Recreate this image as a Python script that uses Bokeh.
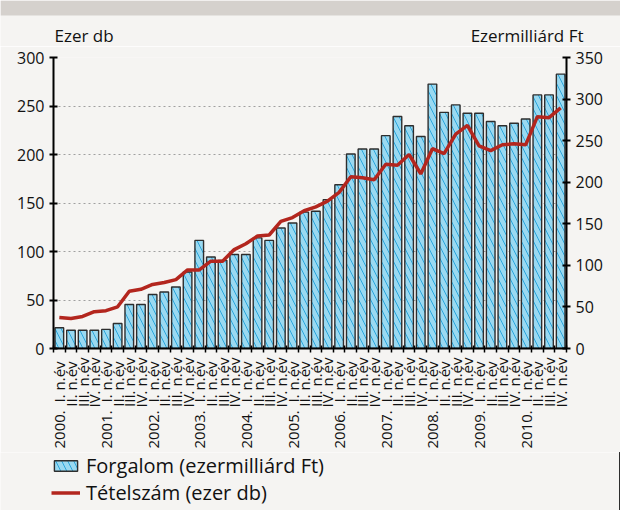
import math
from bokeh.plotting import figure
from bokeh.models import (Range1d, LinearAxis, FixedTicker, Label, Legend, LegendItem,
                          BoxAnnotation)
from bokeh.layouts import column
from bokeh.embed import file_html
from bokeh.resources import INLINE

# ---------------- data ----------------
years = ["2000.", "2001.", "2002.", "2003.", "2004.", "2005.",
         "2006.", "2007.", "2008.", "2009.", "2010."]
quarters = ["I. n.év", "II. n.év", "III. n.év", "IV. n.év"]

# Forgalom (ezermilliárd Ft) - right axis
forgalom = [25, 22, 22, 22, 23, 30, 53, 53, 65, 68, 74, 92,
            130, 110, 106, 113, 113, 133, 130, 145, 151, 164, 165, 179,
            197, 234, 240, 240, 256, 279, 268, 255, 318, 284, 293, 283,
            283, 273, 268, 271, 276, 305, 305, 330]

# Tételszám (ezer db) - left axis
tetelszam = [32, 31, 33, 38, 39, 43, 59, 61, 66, 68, 71, 81,
             81, 90, 90, 102, 108, 116, 117, 131, 135, 142, 146, 152,
             161, 177, 176, 174, 190, 189, 200, 180, 206, 201, 221, 230,
             209, 204, 210, 211, 210, 239, 238, 248]

left_ticks = [0, 50, 100, 150, 200, 250, 300]
right_ticks = [0, 50, 100, 150, 200, 250, 300, 350]

left_title = "Ezer db"
right_title = "Ezermilliárd Ft"
bar_name = "Forgalom (ezermilliárd Ft)"
line_name = "Tételszám (ezer db)"

# ---------------- styling ----------------
W = 620
BG = "#f5f4f2"
BAND = "#d5d1cd"
FONT = "Open Sans"
NBSP = "\u00a0"
TXT = "#111111"
BAR_STYLE = dict(fill_color="#9ad9f1", line_color="#2e2e2e", line_width=1.4,
                 hatch_pattern="\\", hatch_color="#2ba6dc", hatch_scale=12, hatch_weight=1.0)
LINE_STYLE = dict(line_color="#b3261e", line_width=3.5)

n = len(forgalom)
xs = list(range(n))
# trailing no-break spaces make the quarter labels start at a common line
pad = {0: 1, 1: 1, 2: 0, 3: 0}
labels = []
for y in years:
    for qi, q in enumerate(quarters):
        lab = q + NBSP * pad[qi]
        labels.append(y + NBSP * 2 + lab if qi == 0 else lab)


def blank(h, color, xr=(0, 1)):
    f = figure(width=W, height=h, toolbar_location=None, output_backend="svg",
               x_range=Range1d(*xr), y_range=Range1d(0, 1),
               x_axis_type=None, y_axis_type=None, frame_align=False,
               min_border=0, background_fill_color=color, border_fill_color=color,
               outline_line_color=None)
    f.grid.visible = False
    return f


HEAD_H = 46
head = blank(HEAD_H, BG)
head.add_layout(BoxAnnotation(bottom=HEAD_H - 15, bottom_units="screen",
                              fill_color=BAND, fill_alpha=1, line_color=None))
head.add_layout(Label(x=54, y=0, x_units="screen", y_units="screen", text=left_title,
                      text_font=FONT, text_font_size="17px", text_color=TXT,
                      text_baseline="bottom", text_align="left"))
head.add_layout(Label(x=583, y=0, x_units="screen", y_units="screen", text=right_title,
                      text_font=FONT, text_font_size="17px", text_color=TXT,
                      text_baseline="bottom", text_align="right"))

p = figure(width=W, height=406, toolbar_location=None, output_backend="svg",
           x_range=Range1d(-0.5, n - 0.5), y_range=Range1d(left_ticks[0], left_ticks[-1]),
           frame_align=False,
           min_border_left=53, min_border_right=54, min_border_top=11, min_border_bottom=104,
           background_fill_color=BG, border_fill_color=BG, outline_line_color=None)
p.extra_y_ranges = {"r": Range1d(right_ticks[0], right_ticks[-1])}

p.vbar(x=xs, top=forgalom, width=0.74, y_range_name="r", **BAR_STYLE)
p.line(x=xs, y=tetelszam, **LINE_STYLE)

# left axis
ya = p.yaxis[0]
ya.ticker = FixedTicker(ticks=left_ticks)
ya.axis_line_width = 2
ya.major_tick_line_width = 2
ya.major_tick_in = 4
ya.major_tick_out = 4
ya.minor_tick_line_color = None
ya.major_label_text_font = FONT
ya.major_label_text_font_size = "16px"
ya.major_label_text_color = TXT

# right axis
ra = LinearAxis(y_range_name="r", ticker=FixedTicker(ticks=right_ticks))
ra.axis_line_width = 2
ra.major_tick_line_width = 2
ra.major_tick_in = 4
ra.major_tick_out = 4
ra.minor_tick_line_color = None
ra.major_label_text_font = FONT
ra.major_label_text_font_size = "16px"
ra.major_label_text_color = TXT
p.add_layout(ra, "right")

# x axis
xa = p.xaxis[0]
xa.ticker = FixedTicker(ticks=xs, minor_ticks=[i - 0.5 for i in range(n + 1)])
xa.major_label_overrides = {i: lab for i, lab in enumerate(labels)}
xa.major_label_orientation = math.pi / 2
xa.major_tick_line_color = None
xa.major_tick_in = 0
xa.major_tick_out = 0
xa.minor_tick_in = 3
xa.minor_tick_out = 4
xa.minor_tick_line_width = 1.5
xa.axis_line_width = 2
xa.major_label_standoff = 5
xa.major_label_text_font = FONT
xa.major_label_text_font_size = "15px"
xa.major_label_text_color = TXT

p.xgrid.visible = False
p.ygrid.ticker = FixedTicker(ticks=left_ticks)
p.ygrid.grid_line_color = "#a0a0a0"
p.ygrid.grid_line_dash = "2 3"
p.ygrid.grid_line_width = 1

# legend in its own strip; its glyph copies lie outside the strip's x range
foot = blank(58, BG, xr=(-3, -2))
lb = foot.vbar(x=xs, top=forgalom, width=0.74, **BAR_STYLE)
ll = foot.line(x=xs, y=tetelszam, **LINE_STYLE)
lg = Legend(items=[LegendItem(label=bar_name, renderers=[lb]),
                   LegendItem(label=line_name, renderers=[ll])],
            location=(51, 4), orientation="vertical")
lg.padding = 0
lg.margin = 0
lg.spacing = 0
lg.glyph_width = 29
lg.glyph_height = 13
lg.label_height = 20
lg.label_standoff = 6
lg.label_text_font = FONT
lg.label_text_font_size = "20px"
lg.label_text_color = TXT
lg.border_line_color = None
lg.background_fill_alpha = 0
foot.add_layout(lg)

layout = column(head, p, foot, spacing=0)
open("out.html", "w").write(file_html(layout, INLINE))
